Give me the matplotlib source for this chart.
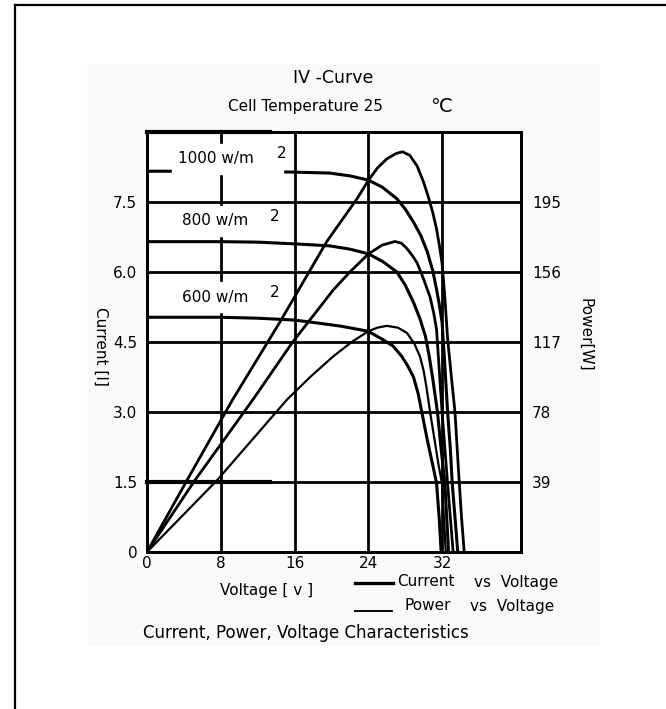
import matplotlib
matplotlib.use("Agg")
import matplotlib.pyplot as plt
from matplotlib.lines import Line2D
from matplotlib.patches import Rectangle

plt.rcParams['font.family'] = ['DejaVu Sans']

# current vs voltage
volt_1000_i = [0, 8, 16, 19.8, 22, 24, 25.5, 27.1, 28.0, 28.9, 29.7, 30.4, 31.0, 31.4, 31.7,
               32.0, 32.3, 32.6, 32.9, 33.1, 33.4, 33.7]
curr_1000 = [8.16, 8.16, 8.14, 8.12, 8.06, 7.97, 7.82, 7.57, 7.35, 7.07, 6.78, 6.43, 6.02, 5.63, 5.3,
             4.92, 4.0, 3.0, 2.2, 1.48, 0.75, 0]
volt_800_i = [0, 8, 12, 16.3, 19.8, 22, 24, 25.6, 27.1, 28.0, 28.9, 29.6, 30.2, 30.6, 31.0, 31.5,
              31.9, 32.3, 32.5, 32.7]
curr_800 = [6.65, 6.65, 6.64, 6.60, 6.56, 6.49, 6.39, 6.22, 6.0, 5.72, 5.35, 5.0, 4.62, 4.2, 3.7, 3.0,
            2.2, 1.48, 0.75, 0]
volt_600_i = [0, 8, 12, 16, 18, 21, 24, 25.5, 26.7, 27.6, 28.3, 28.9, 29.4, 29.8, 30.4, 31.0, 31.4,
              31.7, 31.9]
curr_600 = [5.03, 5.03, 5.01, 4.97, 4.92, 4.84, 4.73, 4.56, 4.41, 4.2, 3.98, 3.75, 3.4, 3.0, 2.4,
            1.85, 1.48, 0.7, 0]

# power vs voltage (W)
volt_1000_p = [0, 4.34, 9.3, 14.4, 19.5, 22.8, 24, 25, 26, 27, 27.7, 28.5, 29.3, 30.0, 30.5, 31.0,
               31.4, 31.7, 32.0, 32.3, 32.6, 33.0, 33.4, 33.8, 34.1, 34.4]
pow_1000 = [0, 40, 85, 128, 173, 197, 207, 214, 219, 222, 223, 221, 215, 206, 198, 189,
            180, 171, 161, 142, 119, 98, 78, 44, 20, 0]
volt_800_p = [0, 5.2, 11.5, 15.8, 20.2, 22, 24, 25.5, 26.9, 27.6, 28.2, 28.8, 29.3, 30.0, 30.7,
              31.1, 31.4, 31.7, 32.0, 32.3, 32.6, 32.9, 33.2]
pow_800 = [0, 40, 85, 117, 146, 156, 166, 171, 173, 172, 169, 165, 161, 152, 142,
           133, 124, 101, 78, 58, 38, 19, 0]
volt_600_p = [0, 7.6, 15.2, 17.8, 20.2, 22.2, 24, 25, 26, 27.2, 28.2, 29.0, 29.6, 30.0, 30.3,
              30.7, 31.2, 31.6, 32.0, 32.2, 32.4]
pow_600 = [0, 40, 85, 98, 109, 117, 123, 125, 126, 125, 122, 116, 109, 101, 92,
           78, 62, 49, 38, 19, 0]

irr_labels = ['1000 w/m', '800 w/m', '600 w/m']

volt_ticks = [0, 8, 16, 24, 32]
curr_ticks = [0, 1.5, 3.0, 4.5, 6.0, 7.5]
curr_ticklabels = ['0', '1.5', '3.0', '4.5', '6.0', '7.5']
pow_ticks = [39, 78, 117, 156, 195]

# label anchors (voltage, current) and superscript x
lab_v = [3.4, 3.8, 3.8]
lab_i = [8.43, 7.10, 5.46]
sup_v = [14.1, 13.3, 13.3]

W, H = 666, 709
FS = 11
fig = plt.figure(figsize=(W / 100, H / 100), dpi=100)

# faint panel and outer frame
fig.patches.append(Rectangle((88 / W, 1 - 645 / H), 510 / W, 580 / H,
                             transform=fig.transFigure, color='#f9f9f9', zorder=-10))
fig.add_artist(Line2D([15 / W, 15 / W], [0, 1 - 5 / H], color='black', lw=1.6))
fig.add_artist(Line2D([15 / W, 1], [1 - 5 / H, 1 - 5 / H], color='black', lw=1.6))

ax = fig.add_axes([147 / W, 1 - 552 / H, 374 / W, 420 / H])
ax.set_xlim(0, 40.56)
ax.set_ylim(0, 9.0)
ax.set_xticks(volt_ticks)
ax.set_yticks(curr_ticks)
ax.set_yticklabels(curr_ticklabels)
ax.grid(True, color='black', lw=2.0)
ax.set_axisbelow(True)
ax.tick_params(length=0, labelsize=FS, pad=7)
ax.tick_params(axis='x', pad=3)
for s in ax.spines.values():
    s.set_linewidth(2.0)

# heavier stubs on the top edge and the 1.5 line, as in the scan
for yy in (9.0, 1.5):
    ax.plot([0, 13.3], [yy, yy], color='black', lw=3.0, zorder=2, clip_on=False)

ax2 = ax.twinx()
ax2.set_ylim(0, 234)
ax2.set_yticks(pow_ticks)
ax2.tick_params(length=0, labelsize=FS, pad=8)
for s in ax2.spines.values():
    s.set_linewidth(2.0)

lw_i, lw_p = 2.2, 2.0
ax.plot(volt_1000_i, curr_1000, color='black', lw=lw_i, zorder=3)
ax.plot(volt_800_i, curr_800, color='black', lw=lw_i, zorder=3)
ax.plot(volt_600_i, curr_600, color='black', lw=lw_i, zorder=3)
ax2.plot(volt_1000_p, pow_1000, color='black', lw=lw_p)
ax2.plot(volt_800_p, pow_800, color='black', lw=lw_p)
ax2.plot(volt_600_p, pow_600, color='black', lw=1.6)

# irradiance labels on white boxes
for lab, v, i, sv in zip(irr_labels, lab_v, lab_i, sup_v):
    ax.add_patch(Rectangle((v - 0.7, i - 0.32), 12.0, 0.64, color='white', zorder=4))
    ax.text(v, i, lab, fontsize=FS, va='center', ha='left', zorder=5)
    ax.text(sv, i + 0.1, '2', fontsize=FS, va='center', ha='left', zorder=5)

fig.text(333 / W, 1 - 78 / H, 'IV -Curve', fontsize=12.5, ha='center', va='center')
fig.text(305 / W, 1 - 107 / H, 'Cell Temperature 25', fontsize=FS, ha='center', va='center')
fig.text(441 / W, 1 - 107 / H, '℃', fontsize=14, ha='center', va='center')

fig.text(101 / W, 1 - 346 / H, 'Current [I]', fontsize=FS, rotation=270, ha='center', va='center')
fig.text(585 / W, 1 - 335 / H, 'Power[W]', fontsize=FS, rotation=270, ha='center', va='center')
fig.text(267 / W, 1 - 590 / H, 'Voltage [ v ]', fontsize=FS, ha='center', va='center')

# legend
fig.add_artist(Line2D([355 / W, 393 / W], [1 - 583 / H, 1 - 583 / H], color='black', lw=2.4))
fig.text(397 / W, 1 - 582 / H, 'Current', fontsize=FS, ha='left', va='center')
fig.text(474 / W, 1 - 582 / H, 'vs  Voltage', fontsize=FS, ha='left', va='center')
fig.add_artist(Line2D([355 / W, 392 / W], [1 - 611 / H, 1 - 611 / H], color='black', lw=1.4))
fig.text(404 / W, 1 - 606 / H, 'Power', fontsize=FS, ha='left', va='center')
fig.text(470 / W, 1 - 606 / H, 'vs  Voltage', fontsize=FS, ha='left', va='center')

fig.text(143 / W, 1 - 633 / H, 'Current, Power, Voltage Characteristics', fontsize=12,
         ha='left', va='center')

fig.savefig('out.png', dpi=100, facecolor='white')
